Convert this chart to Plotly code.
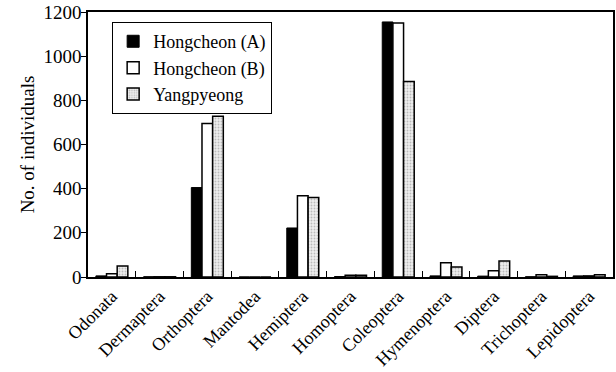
import plotly.graph_objects as go

categories = ["Odonata", "Dermaptera", "Orthoptera", "Mantodea", "Hemiptera", "Homoptera",
              "Coleoptera", "Hymenoptera", "Diptera", "Trichoptera", "Lepidoptera"]
hong_a = [5, 1, 405, 0, 222, 2, 1155, 5, 4, 1, 5]
hong_b = [15, 1, 695, 0, 368, 8, 1150, 65, 28, 10, 5]
yang = [50, 1, 728, 0, 360, 8, 885, 45, 72, 3, 10]
yticks = [0, 200, 400, 600, 800, 1000, 1200]

FONT = "Liberation Serif"

fig = go.Figure()
fig.add_trace(go.Bar(x=categories, y=hong_a, name="Hongcheon (A)",
                     marker=dict(color="black", line=dict(color="black", width=1))))
fig.add_trace(go.Bar(x=categories, y=hong_b, name="Hongcheon (B)",
                     marker=dict(color="white", line=dict(color="black", width=1.5))))
fig.add_trace(go.Bar(x=categories, y=yang, name="Yangpyeong",
                     marker=dict(color="#e6e6e6", line=dict(color="black", width=1.5),
                                 pattern=dict(shape=".", fgcolor="#888888", bgcolor="#eeeeee",
                                              size=3, solidity=0.3))))

fig.update_layout(
    width=616, height=372,
    margin=dict(l=88, r=3, t=12, b=95),
    paper_bgcolor="white", plot_bgcolor="white",
    barmode="group", bargap=0.33, bargroupgap=0,
    font=dict(family=FONT, size=19, color="black"),
    showlegend=True,
    legend=dict(x=0.046, y=0.962, xanchor="left", yanchor="top",
                bordercolor="black", borderwidth=1, bgcolor="white",
                font=dict(family=FONT, size=18), tracegroupgap=0,
                itemwidth=30),
)
fig.update_xaxes(
    type="category", tickangle=-45, tickson="boundaries",
    ticks="inside", ticklen=6, tickcolor="black",
    showline=True, linecolor="black", linewidth=1.5, mirror=True,
    showgrid=False, tickfont=dict(family=FONT, size=18), automargin=False,
)
fig.update_yaxes(
    range=[0, 1200], tickvals=yticks, ticks="outside", ticklen=5, tickcolor="black",
    showline=True, linecolor="black", linewidth=1.5, mirror=True,
    showgrid=False, zeroline=False, automargin=False,
    ticklabelstandoff=-4,
    tickfont=dict(family=FONT, size=19),
    title=dict(text="No. of individuals", font=dict(family=FONT, size=19), standoff=4),
)

fig.write_html("out.html", config={"displayModeBar": False},
               post_script="document.body.style.margin='0';document.body.style.padding='0';")
